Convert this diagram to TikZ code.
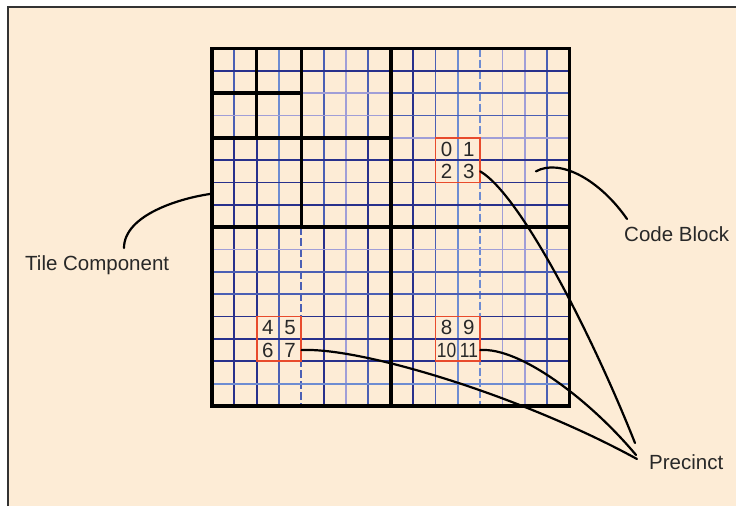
\documentclass[tikz,border=0pt]{standalone}
\usepackage{fontspec}
\setmainfont{Liberation Sans}
\definecolor{bg}{RGB}{253,236,214}
\definecolor{navy}{RGB}{40,48,140}
\definecolor{midb}{RGB}{75,95,180}
\definecolor{lightb}{RGB}{110,140,210}
\definecolor{lav}{RGB}{160,158,215}
\definecolor{boxred}{RGB}{232,75,45}
\definecolor{txt}{RGB}{40,40,40}
\begin{document}
\begin{tikzpicture}[x=1pt,y=-1pt,
  bl/.style={line width=1.8pt},
  heavy/.style={line width=3.6pt, black},
  curve/.style={line width=2.2pt, black, line cap=round},
  lbl/.style={font=\fontsize{20.5}{24}\selectfont, text=txt, inner sep=0pt, anchor=base west},
  dig/.style={font=\fontsize{20.5}{24}\selectfont, text=txt, inner sep=0pt, minimum size=22.34pt},
  cbox/.style={draw=boxred, line width=1.8pt},
  dsh/.style={dash pattern=on 8pt off 3pt}]
\useasboundingbox (0,0) rectangle (736,506);
\fill[white] (0,0) rectangle (736,506);
\fill[bg] (8,7) rectangle (736,506);
\draw[line width=1.2pt, black!80] (8,506) -- (8,7) -- (736,7);

\begin{scope}[shift={(212pt,-48.5pt)}, x=22.34pt, y=-22.34pt]
  % vertical blue lines
  \draw[bl,midb] (1,0) -- (1,4); \draw[bl,navy] (1,4) -- (1,16);
  \draw[bl,navy] (2,4) -- (2,16);
  \draw[bl,lightb] (3,0) -- (3,8); \draw[bl,midb] (3,8) -- (3,16);
  \draw[bl,midb,dsh] (4,8) -- (4,16);
  \draw[bl,midb] (5,0) -- (5,8); \draw[bl,navy] (5,8) -- (5,16);
  \draw[bl,lav] (6,0) -- (6,16);
  \draw[bl,midb] (7,0) -- (7,4); \draw[bl,navy] (7,4) -- (7,12); \draw[bl,midb] (7,12) -- (7,16);
  \draw[bl,navy] (9,0) -- (9,16);
  \draw[bl,midb] (10,0) -- (10,16);
  \draw[bl,lightb] (11,0) -- (11,16);
  \draw[bl,lightb,dsh] (12,0) -- (12,16);
  \draw[bl,lav] (13,0) -- (13,16);
  \draw[bl,lav] (14,0) -- (14,16);
  \draw[bl,midb] (15,0) -- (15,16);
  % horizontal blue lines
  \draw[bl,navy] (0,1) -- (16,1);
  \draw[bl,lav] (4,2) -- (8,2); \draw[bl,midb] (8,2) -- (16,2);
  \draw[bl,lav] (0,3) -- (8,3); \draw[bl,midb] (8,3) -- (16,3);
  \draw[bl,lav] (8,4) -- (16,4);
  \draw[bl,navy] (0,5) -- (16,5);
  \draw[line width=1.4pt,navy] (0,6) -- (16,6);
  \draw[line width=2.3pt,navy] (0,7) -- (16,7);
  \draw[bl,lav] (0,9) -- (16,9);
  \draw[bl,midb] (0,10) -- (16,10);
  \draw[bl,midb] (0,11) -- (16,11);
  \draw[bl,navy] (0,12) -- (16,12);
  \draw[bl,navy] (0,13) -- (16,13);
  \draw[bl,navy] (0,14) -- (16,14);
  \draw[bl,lightb] (0,15) -- (16,15);
  % code block boxes
  \draw[cbox] (10,4) rectangle (12,6);
  \draw[cbox] (2,12) rectangle (4,14);
  \draw[cbox] (10,12) rectangle (12,14);
  % heavy black lines
  \draw[heavy] (8,0) -- (8,16);
  \draw[heavy] (0,8) -- (16,8);
  \draw[heavy] (4,0) -- (4,8);
  \draw[heavy] (0,4) -- (8,4);
  \draw[heavy] (2,0) -- (2,4);
  \draw[heavy] (0,2) -- (4,2);
  \draw[heavy] (0,0) rectangle (16,16);
  % digits
  \node[dig] (n0) at (10.5,4.5) {0};
  \node[dig] (n1) at (11.5,4.5) {1};
  \node[dig] (n2) at (10.5,5.5) {2};
  \node[dig] (n3) at (11.5,5.5) {3};
  \node[dig] (n4) at (2.5,12.5) {4};
  \node[dig] (n5) at (3.5,12.5) {5};
  \node[dig] (n6) at (2.5,13.5) {6};
  \node[dig] (n7) at (3.5,13.5) {7};
  \node[dig] (n8) at (10.5,12.5) {8};
  \node[dig] (n9) at (11.5,12.5) {9};
  \node[dig] (n10) at (10.5,13.5) {\scalebox{0.85}[1]{10}};
  \node[dig] (n11) at (11.5,13.5) {\scalebox{0.85}[1]{11}};
  % connector start points
  \coordinate (tc) at (0,6.5);
  \coordinate (cb) at (14.5,5.5);
\end{scope}

% labels
\node[lbl] (tilelbl) at (25,270) {Tile Component};
\node[lbl] (codelbl) at (624,241) {Code Block};
\node[lbl] (preclbl) at (649,469) {Precinct};

% connector ends
\coordinate (tcEnd) at (124,248);
\coordinate (cbEnd) at (627,219);
\coordinate (pA) at (635,443);
\coordinate (pB) at (636,455);
\coordinate (pC) at (637,459);

% connectors
\draw[curve] (tc) .. controls (180,198) and (124,215) .. (tcEnd);
\draw[curve] (cb) .. controls (560,158) and (600,180) .. (cbEnd);
\draw[curve] (n3.east) .. controls (520,195) and (590,330) .. (pA);
\draw[curve] (n11.east) .. controls (520,347) and (590,400) .. (pB);
\draw[curve] (n7.east) .. controls (360,347) and (520,395) .. (pC);
\end{tikzpicture}
\end{document}
